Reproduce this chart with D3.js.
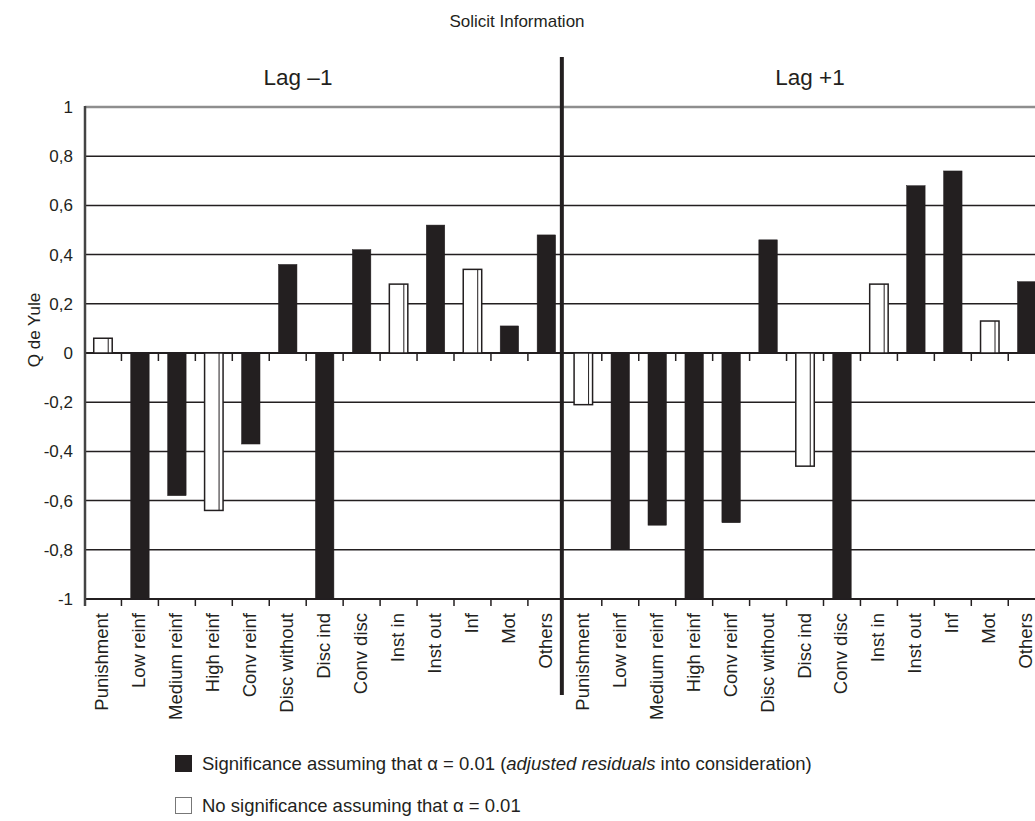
<!DOCTYPE html>
<html>
<head>
<meta charset="utf-8">
<script src="https://cdn.jsdelivr.net/npm/d3@7"></script>
<style>
  html, body { margin: 0; padding: 0; background: #fff; }
  svg { display: block; font-family: "Liberation Sans", Arial, Helvetica, sans-serif; }
</style>
</head>
<body>
<svg id="chart" width="1035" height="821"></svg>
<script>
// Q de Yule per behaviour category, for the two lags
const lags = ["Lag \u20131", "Lag +1"];
const categories = ["Punishment", "Low reinf", "Medium reinf", "High reinf", "Conv reinf",
  "Disc without", "Disc ind", "Conv disc", "Inst in", "Inst out", "Inf", "Mot", "Others"];
const lagMinus1Values = [0.06, -1, -0.58, -0.64, -0.37, 0.36, -1, 0.42, 0.28, 0.52, 0.34, 0.11, 0.48];
const lagPlus1Values = [-0.21, -0.80, -0.70, -1, -0.69, 0.46, -0.46, -1, 0.28, 0.68, 0.74, 0.13, 0.29];
// true = significant at alpha 0.01 (filled bar)
const lagMinus1Significant = [false, true, true, false, true, true, true, true, false, true, false, true, true];
const lagPlus1Significant = [false, true, true, true, true, true, false, true, false, true, true, false, true];
const yTickValues = [1, 0.8, 0.6, 0.4, 0.2, 0, -0.2, -0.4, -0.6, -0.8, -1];
const yTickLabels = ["1", "0,8", "0,6", "0,4", "0,2", "0", "-0,2", "-0,4", "-0,6", "-0,8", "-1"];
const legendLabels = ["Significance assuming that \u03b1 = 0.01 (", "adjusted residuals", " into consideration)"];
const legendLabel2 = "No significance assuming that \u03b1 = 0.01";

const seriesByLag = [
  { lag: lags[0], values: lagMinus1Values, sig: lagMinus1Significant },
  { lag: lags[1], values: lagPlus1Values, sig: lagPlus1Significant }
];

const INK = "#231f20";
const svg = d3.select("#chart");

const y = d3.scaleLinear().domain([-1, 1]).range([599, 107]);
const step = 36.95;
const xLag = d3.scaleBand().domain(lags).range([84.5, 84.5 + step * categories.length * 2]);
const xCat = d3.scaleBand().domain(categories).range([0, xLag.bandwidth()])
  .paddingInner(0.5).paddingOuter(0.25);
const slotOffset = (xCat.step() - xCat.bandwidth()) / 2; // from bar edge back to slot edge

const plotLeft = 85, plotRight = 1035;

// horizontal gridlines
svg.append("g").selectAll("line").data(yTickValues.filter(v => v !== 0)).join("line")
  .attr("x1", plotLeft).attr("x2", plotRight)
  .attr("y1", d => y(d)).attr("y2", d => y(d))
  .attr("stroke", d => d === 1 ? "#8e8e8e" : INK)
  .attr("stroke-width", d => d === 1 ? 2.5 : 1.5);

// category slot boundaries, as ticks on the zero line and on the bottom line
const boundaries = [];
seriesByLag.forEach(s => categories.forEach((c, i) => {
  if (i > 0) boundaries.push(xLag(s.lag) + xCat(c) - slotOffset);
}));
boundaries.push(xLag(lags[1]) + xLag.bandwidth());

svg.append("g").selectAll("line").data(boundaries).join("line")
  .attr("x1", d => d).attr("x2", d => d)
  .attr("y1", y(0)).attr("y2", y(0) + 8)
  .attr("stroke", INK).attr("stroke-width", 1.5);
svg.append("g").selectAll("line").data(boundaries).join("line")
  .attr("x1", d => d).attr("x2", d => d)
  .attr("y1", y(-1)).attr("y2", y(-1) + 7)
  .attr("stroke", INK).attr("stroke-width", 1.5);

// zero line and bottom line
svg.append("line").attr("x1", plotLeft).attr("x2", plotRight)
  .attr("y1", y(0)).attr("y2", y(0)).attr("stroke", INK).attr("stroke-width", 2);
svg.append("line").attr("x1", plotLeft).attr("x2", plotRight)
  .attr("y1", y(-1)).attr("y2", y(-1)).attr("stroke", INK).attr("stroke-width", 2);

// bars
const barData = [];
seriesByLag.forEach(s => s.values.forEach((v, i) => barData.push({
  lag: s.lag, cat: categories[i], value: v, sig: s.sig[i]
})));

const bars = svg.append("g").selectAll("g").data(barData).join("g")
  .attr("transform", d => `translate(${xLag(d.lag) + xCat(d.cat)},0)`);

bars.append("rect")
  .attr("x", 0)
  .attr("width", xCat.bandwidth())
  .attr("y", d => y(Math.max(0, d.value)))
  .attr("height", d => Math.abs(y(d.value) - y(0)))
  .attr("fill", d => d.sig ? INK : "#fff")
  .attr("stroke", INK)
  .attr("stroke-width", d => d.sig ? 0.5 : 1.5);

// side face of the open bars
bars.filter(d => !d.sig).append("line")
  .attr("x1", xCat.bandwidth() - 4).attr("x2", xCat.bandwidth() - 4)
  .attr("y1", d => y(Math.max(0, d.value)))
  .attr("y2", d => y(Math.min(0, d.value)))
  .attr("stroke", INK).attr("stroke-width", 1);

// left axis line
svg.append("line").attr("x1", 85).attr("x2", 85)
  .attr("y1", y(1) - 1).attr("y2", y(-1) + 7)
  .attr("stroke", "#444").attr("stroke-width", 2.5);

// lag separator
svg.append("line")
  .attr("x1", xLag(lags[1]) - 3).attr("x2", xLag(lags[1]) - 3)
  .attr("y1", 57).attr("y2", 695)
  .attr("stroke", INK).attr("stroke-width", 4);

// y tick labels
svg.append("g").selectAll("text").data(yTickValues).join("text")
  .attr("x", 73).attr("y", d => y(d) + 6)
  .attr("text-anchor", "end")
  .attr("font-size", 17).attr("fill", INK)
  .text((d, i) => yTickLabels[i]);

// y axis title
svg.append("text")
  .attr("transform", "translate(40,330) rotate(-90)")
  .attr("text-anchor", "middle")
  .attr("font-size", 17).attr("fill", INK)
  .text("Q de Yule");

// category labels
svg.append("g").selectAll("text").data(barData).join("text")
  .attr("transform", d => `translate(${xLag(d.lag) + xCat(d.cat) + xCat.bandwidth() / 2 + 5.5},613) rotate(-90)`)
  .attr("text-anchor", "end")
  .attr("font-size", 18.5).attr("fill", INK)
  .text(d => d.cat);

// titles
svg.append("text").attr("x", 517).attr("y", 27).attr("text-anchor", "middle")
  .attr("font-size", 17).attr("fill", INK).text("Solicit Information");
const lagLabelX = [298, 810];
svg.append("g").selectAll("text").data(lags).join("text")
  .attr("x", (d, i) => lagLabelX[i]).attr("y", 85)
  .attr("text-anchor", "middle")
  .attr("font-size", 22.5).attr("fill", INK)
  .text(d => d);

// legend
const legend = svg.append("g");
legend.append("rect").attr("x", 175).attr("y", 755).attr("width", 17).attr("height", 17)
  .attr("fill", INK);
const t1 = legend.append("text").attr("x", 202).attr("y", 770)
  .attr("font-size", 18.5).attr("fill", INK);
t1.append("tspan").text(legendLabels[0]);
t1.append("tspan").attr("font-style", "italic").text(legendLabels[1]);
t1.append("tspan").text(legendLabels[2]);
legend.append("rect").attr("x", 175.5).attr("y", 797.5).attr("width", 16).attr("height", 16)
  .attr("fill", "#fff").attr("stroke", "#777").attr("stroke-width", 1);
legend.append("text").attr("x", 202).attr("y", 812)
  .attr("font-size", 18.5).attr("fill", INK)
  .text(legendLabel2);
</script>
</body>
</html>
